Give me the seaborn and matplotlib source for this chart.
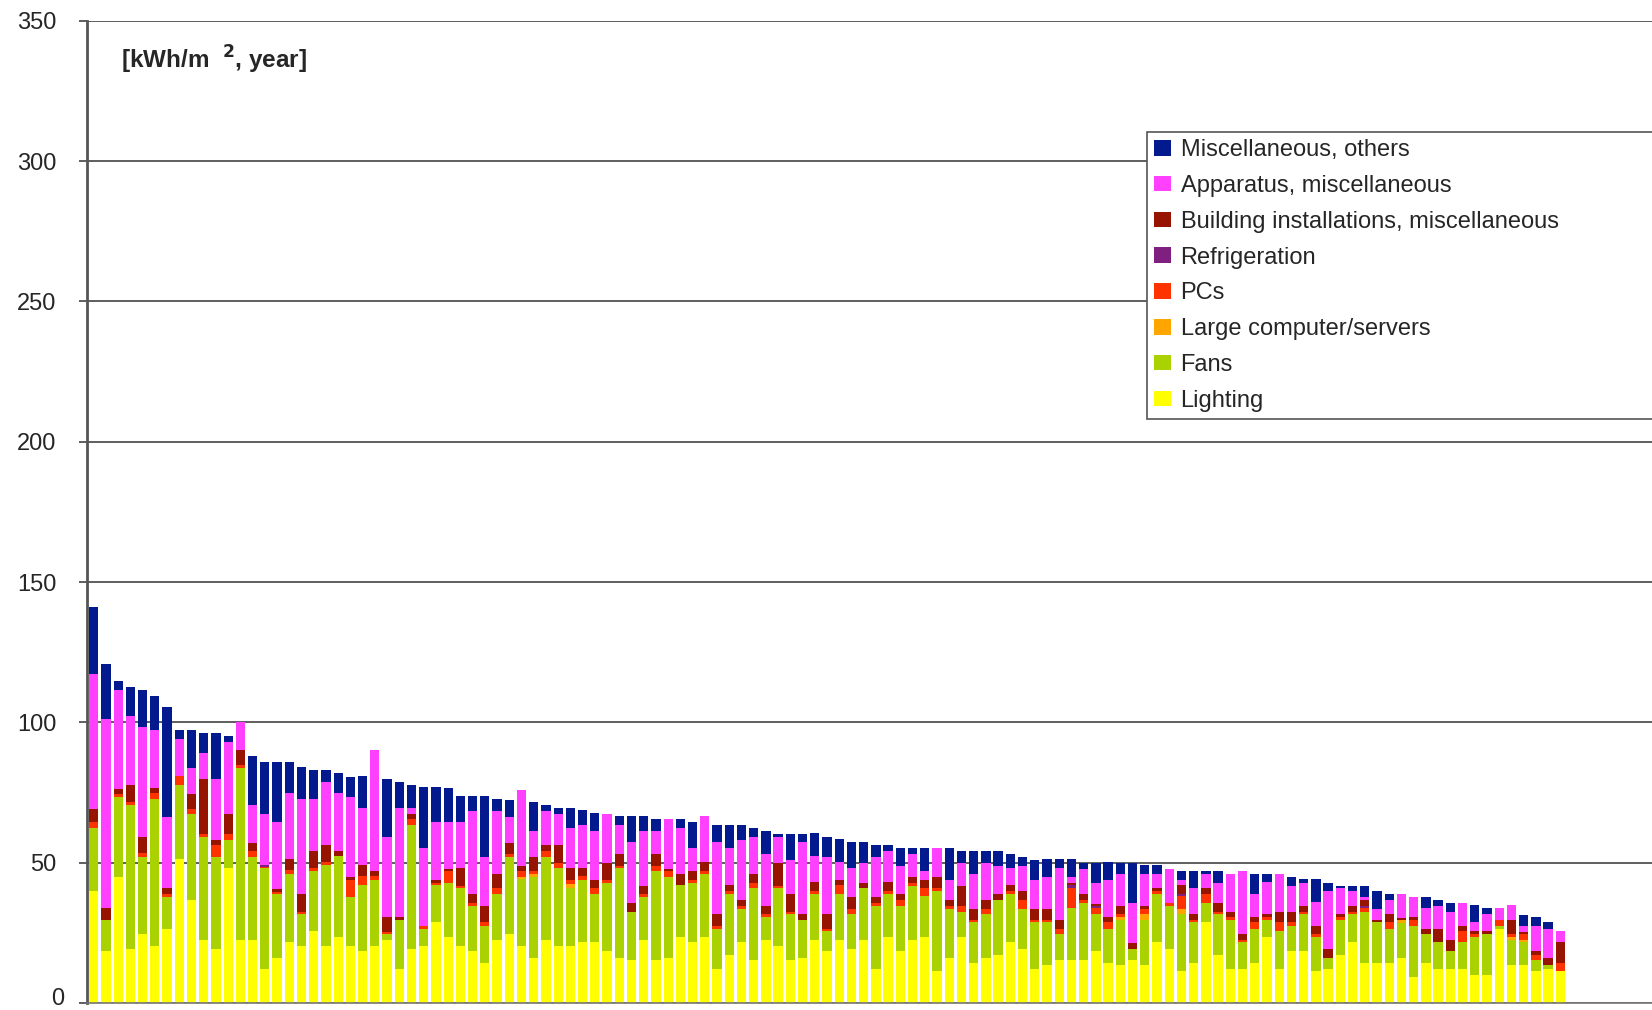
import numpy as np
import pandas as pd
import matplotlib
matplotlib.use("Agg")
import matplotlib.pyplot as plt
from matplotlib.patches import Patch
import seaborn as sns

# ---- data (kWh/m2, year) per building, ranked by total ----
lighting = [39.9, 18.4, 45.0, 19.3, 24.5, 20.4, 26.4, 51.2, 36.7, 22.5, 19.3, 48.0, 22.5, 22.5, 12.2, 16.2,
            21.6, 20.4, 25.5, 20.4, 23.5, 20.4, 18.4, 20.4, 22.5, 12.2, 19.3, 20.4, 28.7, 23.5, 20.4, 18.4,
            14.2, 22.5, 24.5, 20.4, 16.2, 22.5, 20.4, 20.4, 21.6, 21.6, 18.4, 16.2, 15.4, 22.5, 15.4, 16.2,
            23.5, 21.6, 23.5, 12.2, 17.2, 21.6, 15.4, 22.5, 20.4, 15.4, 16.2, 22.5, 18.4, 22.5, 19.3, 22.5,
            12.2, 23.5, 18.4, 22.5, 23.5, 11.3, 16.2, 23.5, 14.2, 16.2, 17.2, 21.6, 19.3, 12.2, 13.4, 15.4,
            15.4, 15.4, 18.4, 14.2, 13.4, 15.4, 13.4, 21.6, 19.3, 11.3, 14.2, 28.7, 17.2, 12.2, 12.2, 14.2,
            23.5, 12.2, 18.4, 18.4, 11.3, 12.2, 17.2, 21.6, 14.2, 14.2, 14.2, 16.2, 9.1, 14.2, 12.2, 12.2,
            12.2, 10.1, 10.1, 26.4, 13.4, 13.4, 11.3, 12.2, 11.3]
fans = [22.6, 11.3, 28.4, 51.2, 27.6, 52.3, 11.4, 26.4, 30.6, 36.6, 32.8, 10.2, 61.3, 29.6, 35.8, 22.6,
        24.5, 11.3, 21.6, 28.6, 28.7, 17.5, 23.5, 23.5, 2.0, 17.4, 44.1, 6.0, 13.2, 19.4, 20.5, 16.2,
        13.3, 16.4, 27.6, 23.7, 28.8, 29.6, 27.6, 20.5, 22.3, 17.3, 24.5, 31.8, 17.2, 15.4, 31.6, 28.8,
        18.4, 21.3, 22.5, 14.2, 21.7, 12.0, 25.5, 8.1, 20.5, 16.2, 13.4, 16.4, 7.1, 16.4, 12.3, 18.4,
        22.4, 15.4, 16.2, 19.3, 14.5, 28.7, 17.3, 9.1, 14.5, 15.4, 19.5, 17.3, 14.2, 16.5, 15.3, 9.1,
        18.4, 20.4, 13.3, 12.2, 16.2, 3.9, 16.2, 17.3, 15.3, 20.4, 14.5, 6.9, 14.5, 17.4, 9.4, 12.2,
        6.2, 13.3, 9.1, 13.3, 12.2, 4.0, 12.4, 10.1, 18.4, 14.5, 12.2, 12.4, 18.4, 10.3, 9.4, 6.2,
        9.4, 13.4, 14.5, 1.1, 9.1, 8.2, 4.1, 1.2, 0.0]
large_computers = [0] * 35 + [0.9, 0.9, 0, 0, 1.5] + [0] * 44 + [0.9, 0, 2.0, 0, 0, 1.9] + [0] * 17 + \
                  [0.9] + [0] * 8 + [1.0, 0.9, 0, 0, 0]
pcs = [2.0, 0.0, 0.9, 1.1, 1.2, 2.0, 1.1, 3.2, 2.0, 1.1, 4.1, 2.0, 1.1, 2.0, 0.5, 0.8,
       1.3, 0.9, 0.9, 1.1, 0.0, 5.9, 3.2, 1.2, 0.9, 0.0, 2.0, 1.1, 0.8, 4.1, 0.9, 0.9,
       1.2, 2.0, 0.9, 2.0, 1.1, 2.0, 2.0, 1.5, 1.2, 2.0, 0.9, 0.9, 0.0, 0.9, 1.9, 2.0,
       0.0, 0.9, 1.1, 1.1, 1.1, 1.1, 2.0, 1.1, 0.9, 0.9, 0.0, 1.1, 0.9, 3.0, 1.9, 0.0,
       0.9, 1.1, 2.1, 1.1, 3.0, 0.9, 1.1, 2.0, 0.9, 1.9, 0.0, 1.1, 3.2, 0.9, 0.9, 1.9,
       7.1, 0.9, 2.0, 2.3, 1.1, 0.0, 1.9, 1.1, 0.9, 4.4, 0.9, 3.3, 0.9, 0.9, 0.9, 2.3,
       0.9, 3.2, 1.2, 0.9, 1.1, 0.0, 0.9, 0.9, 1.2, 0.0, 2.3, 0.0, 2.1, 0.0, 0.0, 0.0,
       3.9, 1.1, 0.0, 2.1, 1.0, 2.0, 1.8, 0.0, 3.0]
refrigeration = [0] * 14 + [0.5] + [0] * 65 + [1.0, 0, 0.8] + [0] * 6 + [0.9] + [0] * 14 + [0.8] + [0] * 16
building_inst = [4.7, 4.1, 2.1, 6.0, 5.9, 1.9, 2.0, 0.0, 5.3, 19.5, 1.9, 7.2, 5.2, 3.0, 0.0, 1.0,
                 3.8, 6.3, 6.2, 6.3, 2.0, 1.2, 3.9, 1.8, 5.1, 0.9, 2.0, 0.0, 1.2, 0.9, 6.2, 3.3,
                 5.9, 5.1, 4.1, 1.9, 5.1, 2.1, 6.3, 4.1, 3.0, 3.0, 6.2, 4.1, 3.0, 3.0, 4.1, 0.9,
                 4.1, 3.2, 3.0, 4.1, 1.9, 2.1, 3.1, 3.0, 8.2, 6.3, 2.0, 3.0, 5.2, 2.0, 4.4, 2.0,
                 2.4, 3.0, 2.1, 2.1, 3.0, 4.1, 2.1, 7.2, 3.9, 3.2, 2.1, 1.9, 3.2, 3.9, 3.9, 3.2,
                 1.0, 2.1, 0.9, 1.9, 3.0, 2.0, 1.1, 0.9, 0.0, 3.0, 2.0, 2.0, 3.0, 2.0, 2.0, 1.9,
                 1.1, 3.9, 3.9, 2.0, 3.0, 3.1, 1.1, 2.0, 2.1, 0.9, 3.0, 0.9, 0.9, 1.9, 4.9, 4.1,
                 2.0, 0.9, 0.9, 0.0, 5.1, 0.9, 1.2, 2.8, 7.3]
apparatus = [48.2, 67.4, 35.0, 24.6, 39.0, 20.6, 25.4, 13.2, 9.1, 9.2, 21.6, 25.5, 10.2, 13.4, 18.5, 23.8,
             23.5, 33.8, 18.5, 22.4, 20.5, 28.4, 20.5, 43.2, 28.7, 38.9, 2.0, 27.7, 20.6, 16.5, 16.5, 29.6,
             17.5, 22.5, 9.1, 26.9, 9.1, 12.2, 11.1, 14.3, 15.4, 17.4, 17.5, 10.3, 21.7, 19.4, 8.2, 17.5,
             16.4, 8.2, 16.6, 25.6, 13.4, 21.4, 13.3, 18.5, 9.2, 12.3, 25.6, 9.2, 20.5, 6.2, 10.1, 7.1,
             14.2, 11.3, 10.1, 8.1, 3.2, 10.2, 7.1, 8.2, 12.4, 13.3, 10.1, 6.2, 9.0, 10.3, 11.5, 18.4,
             2.1, 9.1, 7.3, 13.3, 11.4, 14.2, 11.4, 5.1, 12.4, 2.0, 9.2, 5.1, 7.3, 13.4, 22.5, 8.3,
             11.3, 13.4, 9.2, 8.3, 8.3, 20.6, 9.2, 5.3, 1.2, 3.9, 5.1, 8.3, 7.3, 7.3, 8.2, 10.1,
             8.3, 3.2, 6.2, 4.1, 5.2, 2.0, 9.1, 10.2, 3.9]
misc_others = [23.7, 19.7, 3.2, 10.3, 13.4, 12.3, 39.1, 3.2, 13.4, 7.2, 16.5, 2.4, 0.0, 17.5, 18.5, 21.4,
               11.3, 11.3, 10.3, 4.3, 7.2, 7.3, 11.4, 0.0, 20.6, 9.4, 8.4, 21.6, 12.3, 12.3, 9.2, 5.2,
               21.6, 4.1, 6.3, 0.0, 10.3, 2.0, 2.0, 7.1, 5.3, 6.3, 0.0, 3.2, 9.4, 5.3, 4.3, 0.0,
               3.2, 9.2, 0.0, 6.2, 8.2, 5.2, 3.1, 8.2, 1.1, 9.1, 3.1, 8.2, 7.1, 8.2, 9.2, 7.2,
               4.1, 2.1, 6.3, 2.1, 8.2, 0.0, 11.4, 4.1, 8.2, 4.1, 5.2, 5.1, 3.2, 7.3, 6.2, 3.2,
               6.2, 2.0, 7.1, 6.2, 4.0, 14.5, 3.0, 3.0, 0.0, 3.2, 6.2, 1.1, 4.1, 0.0, 0.0, 7.1,
               3.1, 0.0, 3.2, 1.2, 8.3, 3.0, 0.9, 1.9, 3.9, 6.4, 2.1, 0.0, 0.0, 4.1, 2.1, 3.2,
               0.0, 6.2, 2.1, 0.0, 0.0, 4.1, 3.1, 2.3, 0.0]

categories = ["Lighting", "Fans", "Large computer/servers", "PCs", "Refrigeration",
              "Building installations, miscellaneous", "Apparatus, miscellaneous",
              "Miscellaneous, others"]
series = [lighting, fans, large_computers, pcs, refrigeration, building_inst, apparatus, misc_others]
colors = ["#FFFF00", "#AAD200", "#FFA500", "#FF3300", "#7F1F7F", "#961400", "#FF40FF", "#021A8E"]

yticks = [0, 50, 100, 150, 200, 250, 300, 350]

n = len(lighting)
df = pd.DataFrame({c: s for c, s in zip(categories, series)})
df["building"] = np.arange(n)
cum = df[categories].cumsum(axis=1)

# ---- style ----
sns.set_style("white")
plt.rcParams["font.family"] = ["Liberation Sans", "DejaVu Sans"]

fig = plt.figure(figsize=(16.52, 10.10), dpi=100)
ax = fig.add_axes([87 / 1652, 7 / 1010, 1 - 87 / 1652, (1003 - 20.7) / 1010])

# stacked bars: draw cumulative totals from top layer down
for cat, col in reversed(list(zip(categories, colors))):
    sns.barplot(x=df["building"], y=cum[cat], color=col, saturation=1, width=0.76,
                errorbar=None, linewidth=0, ax=ax)

ax.set_ylim(0, 350)
ax.set_xlim(-0.55, 127.5)
ax.set_yticks(yticks)
# the "0" label is drawn separately so it is not cut at the bottom edge
ax.set_yticklabels([""] + [str(t) for t in yticks[1:]], fontsize=17)
ax.set_xticks([])
ax.set_xlabel("")
ax.set_ylabel("")
ax.yaxis.grid(True, color="#333333", linewidth=1.1)
ax.set_axisbelow(True)
ax.tick_params(axis="y", direction="out", length=6, width=1.1, color="#333333", pad=16, left=True)
for s in ["top", "right"]:
    ax.spines[s].set_visible(False)
ax.spines["left"].set_color("#555555")
ax.spines["left"].set_linewidth(2)
ax.spines["bottom"].set_color("#777777")
ax.spines["bottom"].set_linewidth(1.2)

fig.text(64 / 1652, 0.0, str(yticks[0]), fontsize=17, ha="right", va="bottom")

fig.text(121 / 1652, 1 - 60 / 1010, r"[kWh/m  $\mathbf{^{2}}$, year]", fontsize=17.5,
         fontweight="bold", va="center", ha="left")

handles = [Patch(facecolor=c, edgecolor="none", label=l)
           for l, c in reversed(list(zip(categories, colors)))]
leg = ax.legend(handles=handles, loc="upper left",
                bbox_to_anchor=(1147 / 1652, 1 - 132 / 1010 - 0.3, 0.45, 0.3),
                bbox_transform=fig.transFigure, mode="expand", borderaxespad=0,
                fontsize=17, frameon=True, fancybox=False, framealpha=1,
                edgecolor="#555555", handlelength=0.72, handleheight=0.64,
                handletextpad=0.4, labelspacing=0.585, borderpad=0.3)
leg.get_frame().set_linewidth(1.2)

fig.savefig("out.png", dpi=100)
